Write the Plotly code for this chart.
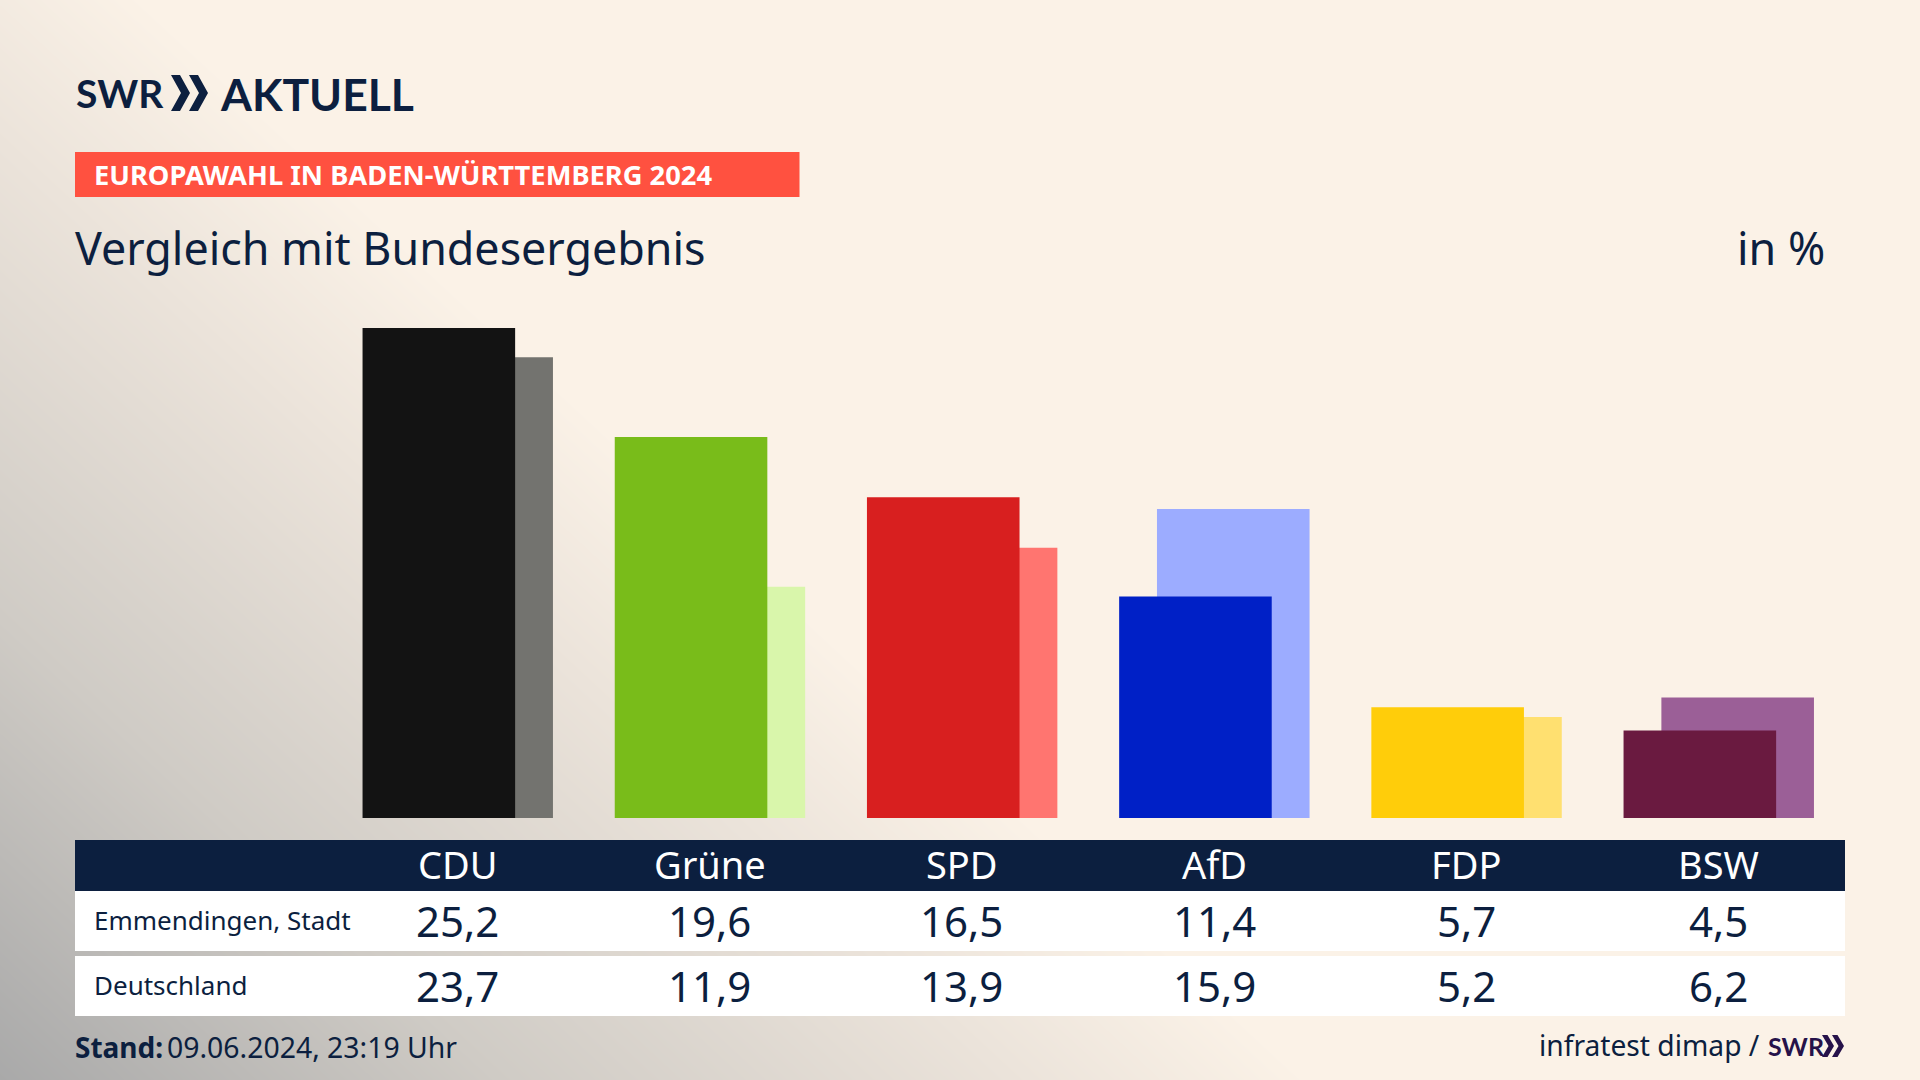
import numpy as np
import plotly.graph_objects as go

parties = ['CDU', 'Grüne', 'SPD', 'AfD', 'FDP', 'BSW']
emmendingen = [25.2, 19.6, 16.5, 11.4, 5.7, 4.5]
deutschland = [23.7, 11.9, 13.9, 15.9, 5.2, 6.2]
colors_front = ['#131313', '#79bc1a', '#d81f1f', '#0020c6', '#ffcd0a', '#6a1a40']
colors_back = ['#73736f', '#d9f6ab', '#ff7570', '#9cacff', '#ffe070', '#9b5f97']
row_names = ['Emmendingen, Stadt', 'Deutschland']

NAVY = '#0c1f3f'
FONT = 'Noto Sans'
LOGO_FONT = 'Lato'

# page pixels -> axis units
X0, X_UNIT = 457.5, 252.2
Y0, Y_UNIT = 818.0, 19.44
x_range = [-X0 / X_UNIT, (1920 - X0) / X_UNIT]
y_range = [-(1080 - Y0) / Y_UNIT, Y0 / Y_UNIT]


def px(x):
    return x / 1920


def py(y):
    return 1 - y / 1080


def add_rect(fig, x0, y0, x1, y1, color):
    fig.add_shape(type='rect', xref='paper', yref='paper', x0=px(x0), x1=px(x1),
                  y0=py(y0), y1=py(y1), fillcolor=color, line_width=0)


def add_text(fig, x, y, text, size, color=NAVY, anchor='left', family=FONT):
    fig.add_annotation(xref='paper', yref='paper', x=px(x), y=py(y), text=text,
                       showarrow=False, xanchor=anchor, yanchor='middle', borderpad=0, borderwidth=0,
                       font=dict(family=family, size=size, color=color))


def add_chevrons(fig, x, top, bottom, w, t, step, color):
    mid = (top + bottom) / 2
    for x1 in [x, x + step]:
        pts = [(x1, top), (x1 + t, top), (x1 + w, mid), (x1 + t, bottom), (x1, bottom), (x1 + w - t, mid)]
        path = 'M ' + ' L '.join(f'{px(a)} {py(b)}' for a, b in pts) + ' Z'
        fig.add_shape(type='path', xref='paper', yref='paper', path=path, fillcolor=color, line_width=0)


fig = go.Figure()

# background: grey corner at the bottom left, fading out to cream along the diagonal
grid_x = np.linspace(0, 1920, 193)
grid_y = np.linspace(0, 1080, 109)
dist = grid_x[None, :] / 1350 + (1080 - grid_y[:, None]) / 1250
fig.add_trace(go.Heatmap(x=(grid_x - X0) / X_UNIT, y=(Y0 - grid_y) / Y_UNIT, z=np.clip(dist, 0, 1),
                         zmin=0, zmax=1, zsmooth='best', showscale=False, hoverinfo='skip',
                         colorscale=[[0, '#a9a9a9'], [0.37, '#cfcbc5'], [0.75, '#ebe3da'], [0.97, '#fbf2e7'], [1, '#fbf2e7']]))

# Deutschland sits behind and to the right, Emmendingen in front
fig.add_trace(go.Bar(x=list(range(6)), y=deutschland, width=0.605, offset=-0.2265,
                     marker=dict(color=colors_back, line_width=0), name='Deutschland'))
fig.add_trace(go.Bar(x=list(range(6)), y=emmendingen, width=0.605, offset=-0.3765,
                     marker=dict(color=colors_front, line_width=0), name='Emmendingen, Stadt'))

# logo
add_text(fig, 76, 93, '<b>SWR</b>', 39, family=LOGO_FONT)
add_chevrons(fig, 171, 75, 111, 19, 9, 18, NAVY)
add_text(fig, 220, 93, '<b>AKTUELL</b>', 44.5, family=LOGO_FONT)

# headline
add_rect(fig, 75, 152, 799.5, 197, '#ff5140')
add_text(fig, 94, 175, '<b>EUROPAWAHL IN BADEN-WÜRTTEMBERG 2024</b>', 27.3, color='#ffffff')
add_text(fig, 75, 247, 'Vergleich mit Bundesergebnis', 44.8)
add_text(fig, 1825, 247, 'in %', 44.8, anchor='right')

# table
add_rect(fig, 75, 840, 1845, 891, NAVY)
add_rect(fig, 75, 891, 1845, 951, '#ffffff')
add_rect(fig, 75, 956, 1845, 1016, '#ffffff')
add_text(fig, 94, 920, row_names[0], 26)
add_text(fig, 94, 985, row_names[1], 26)
for i in range(6):
    x_mid = X0 + i * X_UNIT
    add_text(fig, x_mid, 864, parties[i], 38, color='#ffffff', anchor='center')
    add_text(fig, x_mid, 920, f'{emmendingen[i]:.1f}'.replace('.', ','), 42, anchor='center')
    add_text(fig, x_mid, 985, f'{deutschland[i]:.1f}'.replace('.', ','), 42, anchor='center')

# footer
add_text(fig, 75, 1047, '<b>Stand:</b>', 28)
add_text(fig, 167, 1047, '09.06.2024, 23:19 Uhr', 28.4)
add_text(fig, 1760, 1045, 'infratest dimap /', 28.2, anchor='right')
add_text(fig, 1768, 1046, '<b>SWR</b>', 25, color='#26124a', family=LOGO_FONT)
add_chevrons(fig, 1822, 1035, 1057, 12, 5.5, 10, '#26124a')

fig.update_layout(width=1920, height=1080, margin=dict(l=0, r=0, t=0, b=0),
                  paper_bgcolor='#fbf2e7', plot_bgcolor='#fbf2e7', barmode='overlay', showlegend=False,
                  xaxis=dict(range=x_range, visible=False, fixedrange=True),
                  yaxis=dict(range=y_range, visible=False, fixedrange=True))

fig.write_html('out.html', config=dict(displayModeBar=False), post_script="document.body.style.margin='0';")
